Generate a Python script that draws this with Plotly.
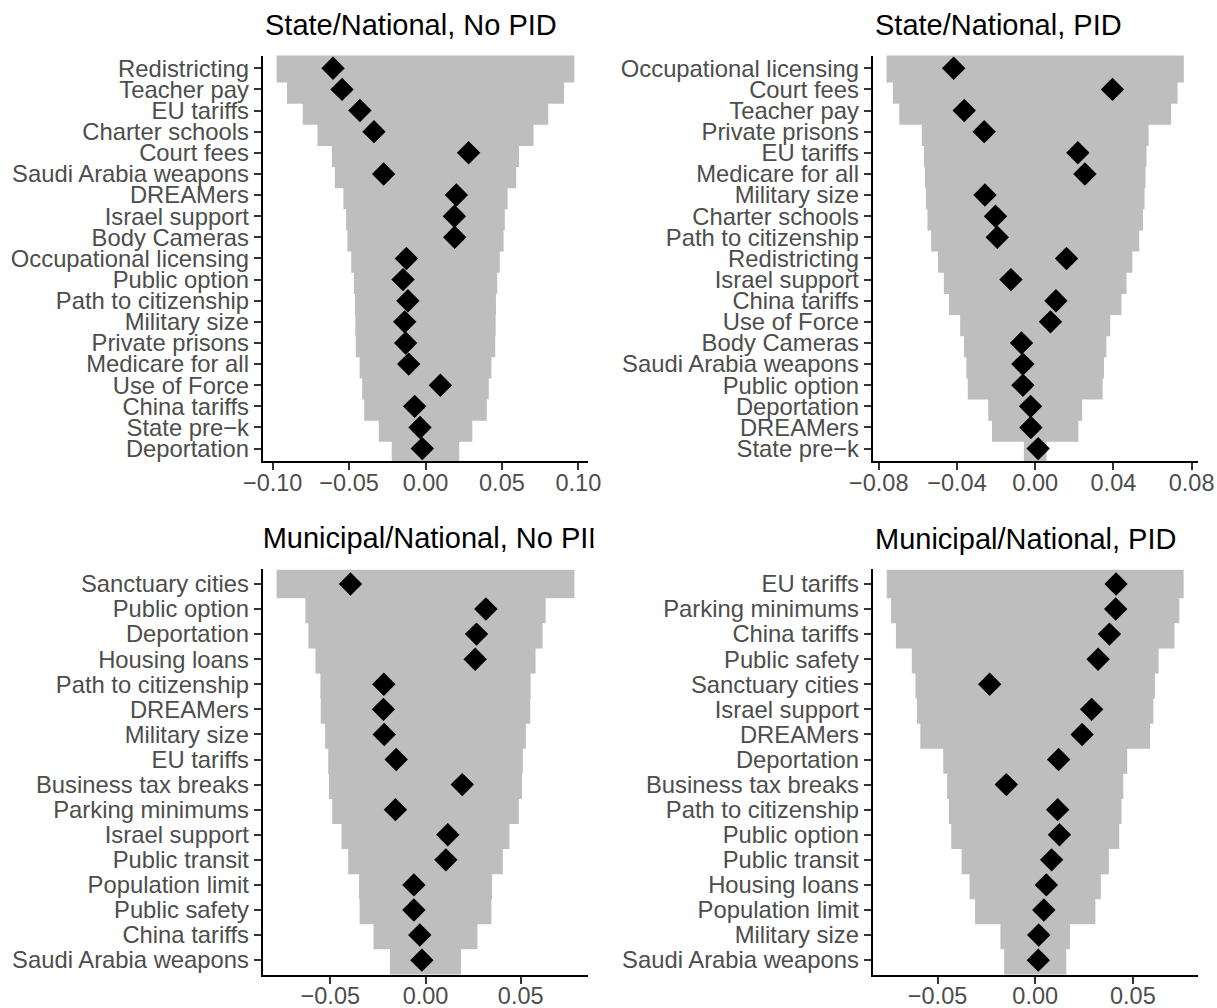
import plotly.graph_objects as go

W, H = 1217, 1008

# ---------------- data ----------------
titles = ["State/National, No PID", "State/National, PID",
          "Municipal/National, No PID", "Municipal/National, PID"]

labels1 = ["Redistricting", "Teacher pay", "EU tariffs", "Charter schools", "Court fees",
           "Saudi Arabia weapons", "DREAMers", "Israel support", "Body Cameras",
           "Occupational licensing", "Public option", "Path to citizenship", "Military size",
           "Private prisons", "Medicare for all", "Use of Force", "China tariffs",
           "State pre\u2212k", "Deportation"]
est1 = [-0.0605, -0.0546, -0.0429, -0.0337, 0.0282, -0.0274, 0.0202, 0.0189, 0.0191,
        -0.0125, -0.0147, -0.0115, -0.0136, -0.0130, -0.0110, 0.0097, -0.0071, -0.0036, -0.0021]
width1 = [0.0974, 0.0906, 0.0803, 0.0707, 0.0612, 0.0593, 0.0537, 0.0519, 0.0511, 0.0486,
          0.0469, 0.0461, 0.0459, 0.0456, 0.0431, 0.0414, 0.0401, 0.0306, 0.0221]

labels2 = ["Occupational licensing", "Court fees", "Teacher pay", "Private prisons", "EU tariffs",
           "Medicare for all", "Military size", "Charter schools", "Path to citizenship",
           "Redistricting", "Israel support", "China tariffs", "Use of Force", "Body Cameras",
           "Saudi Arabia weapons", "Public option", "Deportation", "DREAMers", "State pre\u2212k"]
est2 = [-0.0417, 0.0395, -0.0363, -0.0261, 0.0218, 0.0254, -0.0257, -0.0203, -0.0194, 0.0160,
        -0.0124, 0.0106, 0.0078, -0.0070, -0.0063, -0.0063, -0.0024, -0.0022, 0.0015]
width2 = [0.0760, 0.0728, 0.0695, 0.0580, 0.0569, 0.0564, 0.0559, 0.0551, 0.0532, 0.0497,
          0.0467, 0.0441, 0.0384, 0.0364, 0.0352, 0.0345, 0.0240, 0.0221, 0.0058]

labels3 = ["Sanctuary cities", "Public option", "Deportation", "Housing loans",
           "Path to citizenship", "DREAMers", "Military size", "EU tariffs",
           "Business tax breaks", "Parking minimums", "Israel support", "Public transit",
           "Population limit", "Public safety", "China tariffs", "Saudi Arabia weapons"]
est3 = [-0.0394, 0.0317, 0.0268, 0.0261, -0.0219, -0.0221, -0.0217, -0.0154, 0.0193, -0.0158,
        0.0117, 0.0107, -0.0061, -0.0061, -0.0030, -0.0019]
width3 = [0.0782, 0.0631, 0.0615, 0.0578, 0.0552, 0.0550, 0.0527, 0.0511, 0.0507, 0.0490,
          0.0441, 0.0406, 0.0349, 0.0346, 0.0273, 0.0187]

labels4 = ["EU tariffs", "Parking minimums", "China tariffs", "Public safety", "Sanctuary cities",
           "Israel support", "DREAMers", "Deportation", "Business tax breaks",
           "Path to citizenship", "Public option", "Public transit", "Housing loans",
           "Population limit", "Military size", "Saudi Arabia weapons"]
est4 = [0.0414, 0.0412, 0.0380, 0.0322, -0.0233, 0.0289, 0.0240, 0.0120, -0.0148, 0.0115,
        0.0124, 0.0084, 0.0057, 0.0044, 0.0018, 0.0016]
width4 = [0.0760, 0.0738, 0.0713, 0.0632, 0.0613, 0.0605, 0.0588, 0.0471, 0.0451, 0.0442,
          0.0430, 0.0377, 0.0336, 0.0308, 0.0178, 0.0159]

ticks_top_left = [-0.10, -0.05, 0.00, 0.05, 0.10]
ticks_top_right = [-0.08, -0.04, 0.00, 0.04, 0.08]
ticks_bottom = [-0.05, 0.00, 0.05]

# ---------------- layout helpers ----------------
def fmt(v):
    s = f"{abs(v):.2f}"
    return ("\u2212" + s) if v < 0 else s

FONT = "Liberation Sans, Arial, sans-serif"
GREY = "#BEBEBE"
TICKCOL = "#333333"
LABCOL = "#4D4D4D"

# pixel boxes: (x0, x1, ytop, ybottom)
panels = [
    dict(labels=labels1, est=est1, wid=width1, ticks=ticks_top_left, rng=[-0.1065, 0.1065],
         box=(262.7, 588.3, 55.6, 461.3), title_y=25.0),
    dict(labels=labels2, est=est2, wid=width2, ticks=ticks_top_right, rng=[-0.0831, 0.0834],
         box=(872.7, 1198.3, 55.6, 461.3), title_y=25.0),
    dict(labels=labels3, est=est3, wid=width3, ticks=ticks_bottom, rng=[-0.0855, 0.0855],
         box=(262.7, 588.3, 568.9, 975.2), title_y=538.5),
    dict(labels=labels4, est=est4, wid=width4, ticks=ticks_bottom, rng=[-0.0832, 0.0835],
         box=(872.7, 1198.3, 568.9, 975.2), title_y=538.5),
]

BAND_PX = 28.6  # thickness of each grey band in pixels

fig = go.Figure()
layout = dict(
    template="none",
    width=W, height=H, margin=dict(l=0, r=0, t=0, b=0, autoexpand=False),
    paper_bgcolor="white", plot_bgcolor="white", showlegend=False,
    font=dict(family=FONT, color=LABCOL),
    annotations=[],
)

for i, p in enumerate(panels):
    k = i + 1
    xa = "x" if k == 1 else f"x{k}"
    ya = "y" if k == 1 else f"y{k}"
    x0, x1, yt, yb = p["box"]
    n = len(p["labels"])
    spacing = (yb - yt) / (n + 0.2)
    bw = BAND_PX / spacing
    neg = [-w for w in p["wid"]]
    full = [2 * w for w in p["wid"]]
    fig.add_trace(go.Bar(
        y=p["labels"], x=full, base=neg, orientation="h", width=bw,
        marker=dict(color=GREY, line=dict(width=0)), xaxis=xa, yaxis=ya,
        hoverinfo="skip"))
    fig.add_trace(go.Scatter(
        y=p["labels"], x=p["est"], mode="markers",
        marker=dict(symbol="diamond", size=18, color="black", line=dict(width=0)),
        xaxis=xa, yaxis=ya, hoverinfo="skip"))
    xkey = "xaxis" if k == 1 else f"xaxis{k}"
    ykey = "yaxis" if k == 1 else f"yaxis{k}"
    layout[xkey] = dict(
        domain=[x0 / W, x1 / W], range=p["rng"], anchor=ya, automargin=False,
        tickmode="array", tickvals=p["ticks"], ticktext=[fmt(v) for v in p["ticks"]],
        showline=True, linecolor="black", linewidth=2,
        ticks="outside", ticklen=7, tickwidth=2, tickcolor=TICKCOL,
        ticklabelstandoff=-8,
        tickfont=dict(size=23.5, color=LABCOL, family=FONT),
        showgrid=False, zeroline=False, fixedrange=True)
    layout[ykey] = dict(
        domain=[1 - yb / H, 1 - yt / H], anchor=xa, type="category", automargin=False,
        categoryorder="array", categoryarray=list(reversed(p["labels"])),
        tickmode="array", tickvals=p["labels"], ticktext=p["labels"],
        range=[-0.6, n - 0.4],
        showline=True, linecolor="black", linewidth=2,
        ticks="outside", ticklen=7, tickwidth=2, tickcolor=TICKCOL,
        tickfont=dict(size=23.8, color=LABCOL, family=FONT),
        showgrid=False, zeroline=False, fixedrange=True)
    if k != 3:
        layout["annotations"].append(dict(
            text=titles[i], x=x0 / W, y=1 - p["title_y"] / H,
            xref="paper", yref="paper", xanchor="left", yanchor="middle",
            showarrow=False, font=dict(size=29, color="black", family=FONT)))

# clipped title for panel 3 (the original cuts off at the panel cell edge)
CLIP_RIGHT = 593.5
fig.add_trace(go.Scatter(
    x=[panels[2]["box"][0]], y=[0.5], mode="text", text=[titles[2]],
    textposition="middle right", cliponaxis=True,
    textfont=dict(size=29, color="black", family=FONT),
    xaxis="x5", yaxis="y5", hoverinfo="skip"))
layout["xaxis5"] = dict(domain=[0, CLIP_RIGHT / W], range=[0, CLIP_RIGHT], visible=False,
                        fixedrange=True, anchor="y5", automargin=False)
ty = panels[2]["title_y"] + 2.5
layout["yaxis5"] = dict(domain=[1 - (ty + 25) / H, 1 - (ty - 25) / H], range=[0, 1],
                        visible=False, fixedrange=True, anchor="x5", automargin=False)

fig.update_layout(**layout)
fig.write_html("out.html")
